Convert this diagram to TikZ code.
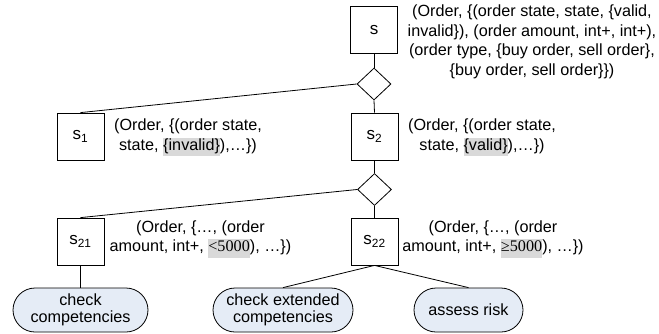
\documentclass[tikz,border=0pt]{standalone}
\usepackage{fontspec}
\setmainfont{Liberation Sans}
\newfontfamily\serifnum{Liberation Serif}
\usetikzlibrary{shapes.geometric}
\definecolor{hlgray}{RGB}{217,217,217}
\definecolor{actfill}{RGB}{229,236,246}
\newcommand\hlt[1]{{\setlength{\fboxsep}{0pt}\colorbox{hlgray}{\rule[-6pt]{0pt}{18.5pt}#1}}}
\begin{document}
\begin{tikzpicture}[x=1pt,y=-1pt,
  every node/.style={font=\fontsize{16.2}{19.6}\selectfont},
  statebox/.style={draw, line width=0.8pt, minimum width=47pt, minimum height=47pt, inner sep=0pt, font=\fontsize{17}{19}\selectfont},
  choice/.style={draw, diamond, line width=0.8pt, minimum width=34pt, minimum height=32pt, inner sep=0pt},
  act/.style={draw, line width=0.8pt, fill=actfill, rounded corners=22pt, minimum height=44pt, inner sep=0pt, align=center, font=\fontsize{16.2}{17}\selectfont},
  note/.style={align=center, inner sep=0pt},
  conn/.style={line width=0.8pt}]
\useasboundingbox (0,0) rectangle (659,333);
\node[statebox] (s) at (374,30) {s};
\node[choice] (d1) at (374,84) {};
\node[statebox] (s1) at (80.5,136.5) {s\textsubscript{1}};
\node[statebox] (s2) at (374.5,136.5) {s\textsubscript{2}};
\node[choice] (d2) at (374.5,189.5) {};
\node[statebox] (s21) at (80.5,241.5) {s\textsubscript{21}};
\node[statebox] (s22) at (374.5,241.5) {s\textsubscript{22}};
\node[act, minimum width=135pt] (e1) at (80.5,310) {check\\competencies};
\node[act, minimum width=140pt] (e2) at (283,310) {check extended\\competencies};
\node[act, minimum width=109pt] (e3) at (468.5,310) {assess risk};

\node[note] (ts) at (532,42) {(Order, \{(order state, state, \{valid,\\invalid\}), (order amount, int+, int+),\\(order type, \{buy order, sell order\},\\\{buy order, sell order\}\})};
\node[note] (t1) at (188,137.5) {(Order, \{(order state,\\state, \hlt{\{invalid\}}),…\})};
\node[note] (t2) at (482,137.5) {(Order, \{(order state,\\state, \hlt{\{valid\}}),…\})};
\node[note] (t21) at (200.5,239) {(Order, \{…, (order\\amount, int+, \hlt{{\serifnum <5000}}), …\})};
\node[note] (t22) at (493,239) {(Order, \{…, (order\\amount, int+, \hlt{{\serifnum ≥5000}}), …\})};

\draw[conn] (s.south) -- (d1.north);
\draw[conn] (d1.south) -- (s2.north);
\draw[conn] (d1.west) -- (s1.north);
\draw[conn] (s2.south) -- (d2.north);
\draw[conn] (d2.west) -- (s21.north);
\draw[conn] (d2.south) -- (s22.north);
\draw[conn] (s21.south) -- (e1.north);
\draw[conn] (s22.south) -- (e2.north);
\draw[conn] (s22.south) -- (e3.north);
\end{tikzpicture}
\end{document}
